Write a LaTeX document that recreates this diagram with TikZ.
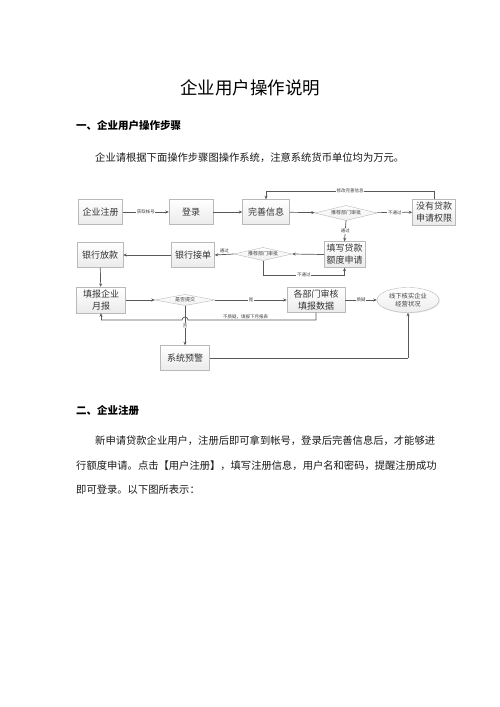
\documentclass[tikz,border=0pt]{standalone}
\usepackage{fontspec}
\newfontfamily\cjk{Noto Sans CJK SC}
\usetikzlibrary{shapes.geometric,arrows.meta,shadows,calc}
\tikzset{
  box/.style={draw=gray!55, top color=white, bottom color=gray!16,
    drop shadow={opacity=0.22, shadow xshift=0.8pt, shadow yshift=-0.8pt},
    inner sep=1pt, align=center, font=\cjk\fontsize{9}{12}\selectfont, text=black!80},
  diashape/.style={draw=gray!55, top color=white, bottom color=gray!12},
  dia/.style={rectangle, inner sep=0pt, font=\cjk\fontsize{5}{6}\selectfont, text=black!75},
  conn/.style={draw=black!65, line width=0.7pt, -{Stealth[length=3.5pt,width=3pt]}},
  line/.style={draw=black!65, line width=0.7pt},
  lab/.style={fill=white, inner sep=0.6pt, font=\cjk\fontsize{4.5}{5}\selectfont, text=black!75},
  txt/.style={font=\cjk\fontsize{10.3}{12}\selectfont, inner sep=0pt, anchor=west, text=black!90},
  hd/.style={font=\cjk\bfseries\fontsize{10.5}{12}\selectfont, inner sep=0pt, anchor=west}
}
% \dianode{name}{x}{y}{halfwidth}{halfheight}{text}
\newcommand\dianode[6]{%
  \path[diashape] (#2-#4,#3) -- (#2,#3-#5) -- (#2+#4,#3) -- (#2,#3+#5) -- cycle;
  \node[dia, minimum width=2*#4pt, minimum height=2*#5pt] (#1) at (#2,#3) {#6};}
\begin{document}
\begin{tikzpicture}[x=1pt,y=-1pt]
\useasboundingbox (0,0) rectangle (500,707);
\fill[white] (0,0) rectangle (500,707);
% texts
\node[font=\cjk\fontsize{17.5}{20}\selectfont, inner sep=0pt] (title) at (250,88) {企业用户操作说明};
\node[hd] (h1) at (76,126) {一、企业用户操作步骤};
\node[txt] (p1) at (95,158) {企业请根据下面操作步骤图操作系统，注意系统货币单位均为万元。};
\node[hd] (h2) at (76,411) {二、企业注册};
\node[txt] (p2) at (95,441) {新申请贷款企业用户，注册后即可拿到帐号，登录后完善信息后，才能够进};
\node[txt] (p3) at (76,466) {行额度申请。点击【用户注册】，填写注册信息，用户名和密码，提醒注册成功};
\node[txt] (p4) at (76,490) {即可登录。以下图所表示：};
% flowchart nodes
\node[box, minimum width=44pt, minimum height=25pt] (reg) at (100.5,212) {企业注册};
\node[box, minimum width=44pt, minimum height=25pt] (login) at (191,212) {登录};
\node[box, minimum width=47pt, minimum height=25pt] (info) at (266,212) {完善信息};
\dianode{d1}{346}{213}{31}{7.5}{推荐部门审批}
\node[box, minimum width=43pt, minimum height=26pt] (noperm) at (434,212) {没有贷款\\申请权限};
\node[box, minimum width=41pt, minimum height=26pt] (fill) at (344.5,254.5) {填写贷款\\额度申请};
\dianode{d2}{263}{254}{29}{6.5}{推荐部门审批}
\node[box, minimum width=43pt, minimum height=25pt] (bank) at (193,255) {银行接单};
\node[box, minimum width=46pt, minimum height=25pt] (loan) at (100,255) {银行放款};
\node[box, minimum width=49pt, minimum height=26pt] (monthly) at (101,300) {填报企业\\月报};
\dianode{d3}{185}{300}{30}{5.5}{是否提交}
\node[box, minimum width=58pt, minimum height=25pt] (audit) at (316,300) {各部门审核\\填报数据};
\node[ellipse, draw=gray!55, top color=white, bottom color=gray!14,
  drop shadow={opacity=0.22, shadow xshift=0.8pt, shadow yshift=-0.8pt},
  minimum width=62pt, minimum height=25pt, inner sep=0pt, align=center,
  font=\cjk\fontsize{6.3}{8.5}\selectfont, text=black!75] (ell) at (408,300) {线下核实企业\\经营状况};
\node[box, minimum width=49pt, minimum height=25pt] (alarm) at (185,358) {系统预警};
% connectors
\draw[conn] (reg) -- node[lab]{获取帐号} (login);
\draw[conn] (login) -- (info);
\draw[conn] (info) -- (d1);
\draw[conn] (d1) -- node[lab]{不通过} (noperm);
\coordinate (t1) at (noperm.north |- 0,191);
\coordinate (t2) at (info.north |- 0,191);
\draw[line] (noperm.north) -- (t1) -- node[lab]{修改完善信息} (t2);
\draw[conn] (t2) -- (info.north);
\draw[conn] (d1.south) -- node[lab]{通过} (fill.north);
\draw[conn] (fill.west) -- (d2.east);
\draw[conn] (d2.west) -- node[lab, above=0.5pt, fill=none]{通过} (bank.east);
\draw[conn] (bank) -- (loan);
\coordinate (b1) at (d2.south |- 0,275);
\coordinate (b2) at (fill.south |- 0,275);
\draw[line] (d2.south) -- (b1) -- node[lab]{不通过} (b2);
\draw[conn] (b2) -- (fill.south);
\draw[conn] (loan) -- (monthly);
\draw[conn] (monthly) -- (d3);
\draw[conn] (d3) -- node[lab]{是} (audit);
\draw[conn] (audit) -- node[lab]{质疑} (ell);
\coordinate (r1) at (audit.south |- 0,320);
\coordinate (r2) at (monthly.south |- 0,320);
\coordinate (j1) at (188,320);
\draw[line] (audit.south) -- (r1) -- node[lab, above=0.3pt, pos=0.55, fill=none]{不质疑，填报下月报表} (j1) arc (0:-180:3) -- (r2);
\draw[conn] (r2) -- (monthly.south);
\draw[conn] (d3.south) -- node[lab, pos=0.5]{否} (alarm.north);
\coordinate (s1) at (ell.south |- alarm.east);
\draw[line] (alarm.east) -- (s1);
\draw[conn] (s1) -- (ell.south);
\end{tikzpicture}
\end{document}
